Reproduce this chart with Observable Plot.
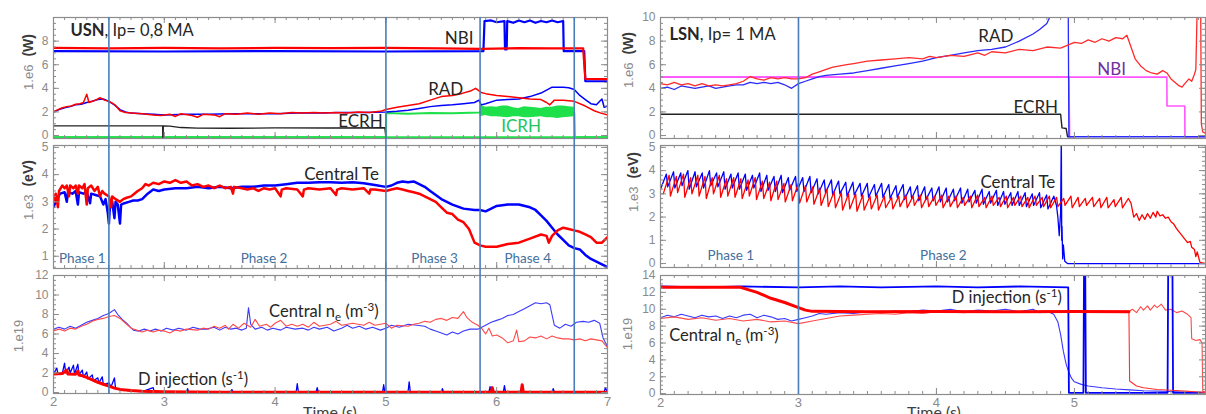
<!DOCTYPE html>
<html><head><meta charset="utf-8">
<script src="https://cdn.jsdelivr.net/npm/d3@7"></script>
<script src="https://cdn.jsdelivr.net/npm/@observablehq/plot@0.6"></script>
<style>
body{margin:0;background:#fff;overflow:hidden}
#root{position:relative;width:1206px;height:414px;overflow:hidden;font-family:"Liberation Sans",Arial,sans-serif;background:#fff}
.cell{position:absolute}
.ytitle{position:absolute;transform:translate(-50%,-50%) rotate(-90deg);white-space:nowrap;line-height:1}
.ytitle .u{color:#8a8a8a;font-size:13px}
.ytitle .b{color:#3a3a3a;font-size:14px;font-weight:bold;margin-left:8px}
.xtitle{position:absolute;font-family:Lato,sans-serif;font-size:16px;color:#404040;transform:translateX(-50%);white-space:nowrap}
</style></head><body><div id="root"></div>
<script>
// ---------------- DATA (time in s) ----------------
// LEFT panel (USN, Ip = 0.8 MA) — top: powers (1e6 W)
const nbiRedL  = [2.0,7.42, 2.5,7.38, 3.0,7.43, 3.5,7.38, 4.0,7.42, 4.5,7.4, 5.0,7.42, 5.5,7.38, 5.85,7.35, 6.2,7.4, 6.5,7.38, 6.78,7.38, 6.8,4.8, 7.0,4.78];
const nbiBlueL = [2.0,7.15, 3.0,7.12, 4.0,7.15, 5.0,7.12, 5.88,7.15, 5.89,9.7, 5.95,9.75, 6.0,9.6, 6.07,9.7, 6.075,7.3, 6.09,7.3, 6.095,9.7, 6.15,9.55, 6.2,9.75, 6.25,9.6, 6.3,9.75, 6.35,9.55, 6.4,9.7, 6.45,9.6, 6.5,9.75, 6.55,9.6, 6.6,9.7, 6.605,7.15, 6.79,7.15, 6.8,4.6, 7.0,4.6];
const radRedL  = [2.0,2.0, 2.04,2.2, 2.08,2.35, 2.12,2.45, 2.16,2.5, 2.2,2.65, 2.24,2.7, 2.27,2.8, 2.3,3.5, 2.32,2.8, 2.35,2.9, 2.38,3.0, 2.42,3.2, 2.46,3.0, 2.5,2.9, 2.53,2.75, 2.56,2.55, 2.6,2.1, 2.65,1.95, 2.7,1.9, 2.8,1.85, 2.9,1.75, 2.97,1.7, 3.05,1.8, 3.1,1.62, 3.15,1.85, 3.25,1.7, 3.3,1.55, 3.35,1.8, 3.45,1.75, 3.5,1.6, 3.55,1.85, 3.65,1.8, 3.75,1.9, 3.85,1.8, 3.95,1.9, 4.05,1.85, 4.15,1.95, 4.25,1.9, 4.35,1.95, 4.45,1.9, 4.55,1.95, 4.65,1.9, 4.75,2.0, 4.85,1.95, 4.95,2.05, 5.0,2.2, 5.1,2.4, 5.2,2.55, 5.3,2.7, 5.4,3.0, 5.5,3.3, 5.6,3.4, 5.68,3.55, 5.77,3.8, 5.81,4.0, 5.86,3.65, 5.9,3.55, 6.0,3.4, 6.1,3.3, 6.2,3.2, 6.3,3.1, 6.4,3.05, 6.45,2.8, 6.48,2.6, 6.52,3.0, 6.6,3.0, 6.7,2.9, 6.8,2.5, 6.88,2.1, 6.94,1.9, 7.0,1.75];
const radBlueL = [2.0,2.0, 2.05,2.2, 2.1,2.35, 2.15,2.45, 2.2,2.6, 2.25,2.65, 2.3,2.8, 2.35,2.9, 2.4,3.05, 2.45,3.1, 2.5,2.9, 2.55,2.6, 2.6,2.2, 2.65,2.0, 2.7,1.9, 2.8,1.85, 2.9,1.8, 3.0,1.75, 3.2,1.8, 3.4,1.8, 3.6,1.85, 3.8,1.85, 4.0,1.85, 4.2,1.9, 4.4,1.9, 4.6,1.95, 4.8,1.95, 5.0,2.0, 5.1,2.05, 5.2,2.15, 5.3,2.3, 5.4,2.45, 5.5,2.55, 5.6,2.6, 5.7,2.7, 5.8,2.8, 5.84,3.0, 5.86,2.6, 5.9,2.7, 6.0,3.0, 6.1,3.05, 6.2,3.1, 6.3,3.3, 6.4,3.6, 6.5,4.1, 6.6,4.1, 6.65,4.05, 6.7,3.9, 6.75,3.4, 6.8,3.05, 6.85,2.7, 6.9,2.6, 6.93,2.9, 6.95,3.1, 6.97,2.4, 7.0,2.5];
const ecrhL    = [2.0,0.82, 2.985,0.82, 2.986,-0.15, 2.99,-0.15, 2.991,0.82, 3.05,0.8, 3.15,0.68, 3.3,0.63, 3.6,0.62, 4.0,0.65, 4.5,0.64, 4.99,0.66, 5.0,-0.15];
const icrhOff  = [2.0,-0.15, 7.0,-0.15];
const icrhOn   = [2.0,-0.15, 5.0,-0.15, 5.003,1.9, 5.2,1.85, 5.4,1.9, 5.6,1.88, 5.84,1.95, 5.85,2.0, 6.7,1.9, 6.705,-0.15, 7.0,-0.15];
const icrhBandT  = [5.85, 5.9, 5.95, 6.0, 6.05, 6.1, 6.15, 6.2, 6.25, 6.3, 6.35, 6.4, 6.45, 6.5, 6.55, 6.6, 6.65, 6.7];
const icrhBandHi = [2.6, 2.4, 2.45, 2.4, 2.5, 2.5, 2.35, 2.3, 2.45, 2.4, 2.35, 2.3, 2.4, 2.4, 2.5, 2.5, 2.45, 2.4];
const icrhBandLo = [1.6, 1.7, 1.6, 1.6, 1.55, 1.5, 1.6, 1.6, 1.5, 1.5, 1.55, 1.6, 1.5, 1.5, 1.45, 1.5, 1.55, 1.6];
// LEFT middle: central Te (1e3 eV)
const teRedL  = [2.0,3.0, 2.02,3.3, 2.04,2.8, 2.05,3.4, 2.08,3.6, 2.1,3.5, 2.12,3.6, 2.14,3.2, 2.15,3.6, 2.18,3.5, 2.2,3.6, 2.22,3.3, 2.23,3.6, 2.26,3.5, 2.28,3.65, 2.3,2.9, 2.31,3.5, 2.34,3.6, 2.37,3.4, 2.4,3.55, 2.42,3.2, 2.44,3.4, 2.46,3.3, 2.5,3.2, 2.52,2.8, 2.53,3.2, 2.56,3.1, 2.6,3.0, 2.63,3.1, 2.66,3.15, 2.7,3.2, 2.73,3.3, 2.76,3.4, 2.8,3.5, 2.83,3.65, 2.86,3.6, 2.9,3.7, 2.95,3.65, 3.0,3.75, 3.05,3.7, 3.1,3.8, 3.15,3.7, 3.2,3.75, 3.25,3.6, 3.3,3.65, 3.35,3.55, 3.4,3.6, 3.45,3.5, 3.5,3.6, 3.55,3.5, 3.6,3.55, 3.62,3.3, 3.63,3.55, 3.7,3.5, 3.75,3.45, 3.8,3.5, 3.85,3.4, 3.9,3.5, 3.95,3.45, 4.0,3.5, 4.05,3.2, 4.06,3.45, 4.1,3.5, 4.2,3.45, 4.25,3.2, 4.26,3.45, 4.3,3.5, 4.4,3.45, 4.5,3.5, 4.55,3.25, 4.56,3.45, 4.6,3.5, 4.7,3.45, 4.8,3.5, 4.85,3.3, 4.86,3.45, 4.9,3.45, 5.0,3.4, 5.05,3.45, 5.1,3.5, 5.15,3.45, 5.2,3.4, 5.25,3.35, 5.3,3.3, 5.35,3.2, 5.4,3.1, 5.45,3.0, 5.5,2.8, 5.55,2.6, 5.6,2.55, 5.65,2.35, 5.7,2.25, 5.75,2.0, 5.8,1.5, 5.85,1.4, 5.9,1.35, 6.0,1.35, 6.1,1.45, 6.2,1.5, 6.3,1.65, 6.4,1.8, 6.45,1.75, 6.47,1.5, 6.5,1.75, 6.55,1.95, 6.6,2.05, 6.65,2.0, 6.7,1.95, 6.75,1.9, 6.8,1.8, 6.85,1.7, 6.9,1.5, 6.95,1.5, 7.0,1.7];
const teBlueL = [2.0,2.8, 2.03,3.1, 2.06,3.3, 2.1,3.35, 2.12,3.0, 2.13,3.35, 2.17,3.3, 2.2,3.4, 2.22,2.9, 2.23,3.35, 2.27,3.3, 2.3,3.35, 2.33,2.95, 2.34,3.3, 2.38,3.25, 2.42,3.2, 2.45,2.9, 2.47,3.1, 2.49,2.6, 2.5,2.2, 2.51,2.9, 2.53,3.0, 2.55,2.4, 2.56,3.0, 2.58,2.9, 2.6,2.2, 2.61,2.9, 2.64,2.95, 2.68,3.0, 2.72,3.05, 2.76,3.05, 2.8,3.1, 2.85,3.3, 2.9,3.45, 2.95,3.4, 3.0,3.45, 3.1,3.5, 3.2,3.5, 3.3,3.55, 3.4,3.5, 3.5,3.55, 3.6,3.5, 3.7,3.55, 3.8,3.55, 3.9,3.6, 4.0,3.6, 4.1,3.65, 4.2,3.7, 4.3,3.7, 4.4,3.72, 4.5,3.72, 4.6,3.7, 4.7,3.72, 4.8,3.68, 4.9,3.62, 5.0,3.55, 5.05,3.6, 5.1,3.7, 5.15,3.75, 5.2,3.72, 5.25,3.75, 5.3,3.65, 5.35,3.55, 5.4,3.4, 5.45,3.25, 5.5,3.1, 5.55,3.0, 5.6,2.9, 5.7,2.75, 5.8,2.7, 5.85,2.7, 5.9,2.65, 5.95,2.75, 6.0,2.85, 6.1,2.9, 6.2,2.9, 6.3,2.8, 6.35,2.7, 6.4,2.5, 6.45,2.3, 6.5,2.05, 6.55,1.8, 6.6,1.6, 6.65,1.4, 6.7,1.3, 6.75,1.25, 6.8,1.05, 6.85,0.9, 6.9,0.8, 6.95,0.7, 7.0,0.6];
// LEFT bottom: central ne and D injection (1e19)
const neBlueL = [2.0,6.5, 2.05,6.7, 2.1,6.5, 2.15,6.8, 2.2,6.6, 2.25,6.9, 2.3,7.2, 2.35,7.4, 2.4,7.6, 2.45,7.9, 2.5,8.1, 2.55,8.5, 2.58,8.0, 2.62,7.5, 2.67,7.0, 2.72,6.4, 2.77,6.3, 2.82,6.5, 2.87,6.3, 2.92,6.5, 2.97,6.3, 3.02,6.6, 3.08,6.4, 3.13,6.6, 3.2,6.4, 3.26,6.7, 3.32,6.5, 3.38,6.5, 3.45,6.7, 3.5,6.4, 3.55,6.7, 3.6,6.5, 3.65,6.6, 3.7,6.4, 3.74,6.6, 3.76,8.7, 3.78,7.0, 3.82,6.5, 3.88,6.7, 3.93,6.4, 3.98,6.6, 4.05,6.4, 4.1,6.7, 4.18,6.5, 4.25,6.6, 4.3,6.4, 4.35,6.7, 4.4,6.5, 4.47,6.7, 4.53,6.3, 4.6,6.6, 4.65,6.9, 4.7,6.6, 4.76,6.8, 4.82,6.5, 4.88,6.7, 4.95,6.4, 5.0,6.6, 5.05,6.9, 5.12,6.7, 5.2,7.0, 5.28,6.9, 5.35,6.8, 5.4,6.5, 5.45,6.3, 5.5,6.1, 5.55,5.9, 5.6,6.2, 5.65,6.0, 5.7,6.3, 5.76,6.5, 5.83,6.5, 5.9,6.9, 5.95,7.2, 6.0,7.4, 6.05,7.6, 6.1,7.9, 6.15,8.0, 6.2,8.3, 6.25,8.6, 6.3,8.9, 6.35,9.2, 6.4,9.1, 6.45,9.2, 6.48,9.0, 6.52,6.9, 6.57,6.6, 6.62,7.0, 6.67,6.8, 6.72,7.2, 6.78,7.3, 6.83,7.2, 6.88,7.4, 6.93,7.1, 6.96,5.6, 7.0,4.7];
const neRedL  = [2.0,6.3, 2.05,6.5, 2.1,6.3, 2.15,6.6, 2.2,6.5, 2.25,6.8, 2.3,7.0, 2.35,7.3, 2.4,7.5, 2.45,7.6, 2.5,7.8, 2.55,7.9, 2.6,7.6, 2.65,7.1, 2.7,6.6, 2.75,6.4, 2.8,6.2, 2.85,6.4, 2.9,6.2, 2.95,6.4, 3.0,6.3, 3.05,6.1, 3.1,6.4, 3.15,6.3, 3.2,6.5, 3.3,6.4, 3.35,6.6, 3.4,6.5, 3.45,6.8, 3.5,6.6, 3.55,6.9, 3.58,6.5, 3.62,7.0, 3.67,6.6, 3.72,7.1, 3.78,6.7, 3.82,7.5, 3.86,6.8, 3.92,7.0, 3.96,6.7, 4.0,7.1, 4.05,7.4, 4.1,6.8, 4.15,7.0, 4.2,6.8, 4.25,7.0, 4.3,6.7, 4.35,7.2, 4.4,6.8, 4.5,7.0, 4.55,7.3, 4.6,6.9, 4.7,7.1, 4.8,6.9, 4.85,7.2, 4.9,6.9, 5.0,7.1, 5.05,6.6, 5.1,6.9, 5.2,6.8, 5.25,7.0, 5.3,7.1, 5.35,7.3, 5.4,7.2, 5.45,7.5, 5.5,7.6, 5.55,7.4, 5.6,7.7, 5.65,7.6, 5.7,8.3, 5.73,7.7, 5.78,7.2, 5.83,6.9, 5.87,6.5, 5.9,6.0, 5.93,6.6, 5.96,5.8, 6.0,5.9, 6.05,5.6, 6.1,5.1, 6.15,5.3, 6.18,6.4, 6.2,5.2, 6.25,5.3, 6.3,5.7, 6.35,5.6, 6.4,5.8, 6.45,5.5, 6.5,5.8, 6.55,5.6, 6.6,5.5, 6.65,5.5, 6.7,5.4, 6.75,5.5, 6.8,5.3, 6.85,5.5, 6.9,5.4, 6.95,5.3, 7.0,4.6];
const dInjRedL  = [2.0,1.9, 2.08,1.95, 2.12,2.3, 2.13,1.9, 2.2,1.88, 2.22,2.2, 2.23,1.8, 2.25,1.75, 2.3,1.55, 2.35,1.3, 2.4,1.05, 2.45,0.85, 2.5,0.65, 2.55,0.45, 2.6,0.32, 2.7,0.2, 2.8,0.12, 3.0,0.07, 3.5,0.04, 4.0,0.03, 5.0,0.03, 5.95,0.03, 5.96,0.5, 5.97,0.03, 6.22,0.03, 6.23,0.8, 6.24,0.03, 7.0,0.03];
const dInjBlueL = [2.0,1.9, 2.03,2.5, 2.04,1.9, 2.08,2.0, 2.1,3.0, 2.11,2.0, 2.14,2.6, 2.15,2.0, 2.18,2.8, 2.19,1.9, 2.22,2.9, 2.23,1.8, 2.26,2.3, 2.27,1.6, 2.3,2.1, 2.31,1.4, 2.35,1.8, 2.36,1.2, 2.4,1.5, 2.41,1.0, 2.44,1.6, 2.45,0.8, 2.5,1.0, 2.52,0.6, 2.55,1.5, 2.56,0.4, 2.6,0.3, 2.65,0.25, 2.7,0.15, 2.8,0.1, 2.9,0.5, 2.91,0.05, 3.2,0.05, 3.21,0.4, 3.22,0.05, 3.6,0.05, 3.61,0.3, 3.62,0.05, 4.19,0.05, 4.2,0.9, 4.21,0.05, 4.37,0.05, 4.38,0.5, 4.39,0.05, 4.97,0.05, 4.98,0.8, 4.99,0.05, 5.2,0.05, 5.21,1.1, 5.22,0.05, 5.5,0.05, 5.51,0.4, 5.52,0.05, 5.93,0.05, 5.94,0.6, 5.95,0.05, 6.06,0.05, 6.07,0.7, 6.08,0.05, 6.5,0.05, 6.51,0.4, 6.52,0.05, 6.97,0.05, 6.98,0.5, 7.0,0.05];

// RIGHT panel (LSN, Ip = 1 MA) — top: powers (1e6 W)
const radRedR  = [2.0,4.4, 2.05,4.3, 2.1,4.5, 2.15,4.3, 2.2,4.4, 2.25,4.2, 2.3,4.4, 2.35,4.2, 2.4,4.3, 2.45,4.2, 2.5,4.3, 2.55,4.4, 2.6,4.6, 2.65,5.0, 2.7,4.8, 2.75,4.7, 2.8,4.9, 2.85,4.8, 2.9,4.9, 2.95,4.8, 3.0,4.8, 3.05,4.9, 3.1,5.2, 3.15,5.4, 3.2,5.6, 3.25,5.8, 3.3,5.9, 3.35,6.0, 3.4,6.1, 3.45,6.2, 3.5,6.3, 3.6,6.4, 3.7,6.5, 3.8,6.6, 3.9,6.5, 3.95,6.7, 4.0,6.6, 4.1,6.8, 4.2,6.7, 4.3,7.0, 4.35,6.8, 4.4,7.1, 4.5,7.0, 4.6,7.3, 4.7,7.2, 4.8,7.5, 4.9,7.4, 5.0,7.9, 5.05,7.8, 5.1,8.1, 5.15,7.9, 5.2,8.2, 5.25,8.0, 5.3,8.3, 5.35,8.2, 5.38,8.5, 5.41,7.5, 5.44,6.5, 5.48,5.9, 5.52,5.5, 5.56,5.3, 5.6,5.2, 5.64,5.5, 5.67,5.3, 5.7,4.8, 5.73,4.5, 5.76,4.2, 5.78,4.1, 5.8,4.4, 5.83,4.8, 5.85,4.6, 5.87,5.2, 5.88,5.6, 5.89,11, 5.915,11, 5.92,1.0, 5.93,0.3, 5.95,0.2];
const radBlueR = [2.0,4.0, 2.05,4.1, 2.1,3.9, 2.15,4.2, 2.2,4.1, 2.25,4.0, 2.3,4.1, 2.35,4.2, 2.4,4.0, 2.45,4.1, 2.5,4.2, 2.55,4.3, 2.6,4.3, 2.65,4.5, 2.7,4.4, 2.75,4.5, 2.8,4.4, 2.85,4.5, 2.9,4.3, 2.95,4.0, 3.0,4.4, 3.05,4.6, 3.1,4.8, 3.15,5.0, 3.2,5.1, 3.3,5.2, 3.4,5.3, 3.5,5.5, 3.6,5.7, 3.7,5.9, 3.8,6.1, 3.9,6.3, 4.0,6.6, 4.1,6.8, 4.2,7.0, 4.3,7.2, 4.4,7.3, 4.5,7.5, 4.6,8.0, 4.7,8.6, 4.75,9.0, 4.8,9.5, 4.84,10.5, 4.955,11, 4.96,-0.1, 5.95,-0.1];
const ecrhR    = [2.0,1.8, 4.9,1.8, 4.91,0.65, 4.94,0.6, 4.95,-0.1, 4.96,-0.1];
const nbiR1    = [2.0,4.95, 5.67,4.95, 5.671,2.5, 5.8,2.5, 5.801,-0.1, 5.95,-0.1];
const nbiR2    = [2.0,4.95, 4.96,4.95, 4.965,-0.1, 5.0,-0.1];
// RIGHT middle: central Te (1e3 eV) — sawtooth crashes, one tooth per entry
const sawPeriod = 0.052;
const teBlueRhi = [3.85,3.95,3.9,4.0,3.95,3.9,4.0,3.9,3.95,3.85, 3.9,3.85,3.8,3.9,3.8,3.75,3.8,3.7,3.75,3.7, 3.75,3.65,3.6,3.6,3.55,3.5,3.5,3.45,3.45,3.4, 3.45,3.4,3.35,3.4,3.3,3.35,3.3,3.25,3.3,3.25, 3.2,3.25,3.2,3.15,3.2,3.1,3.15,3.1,3.05,3.1, 3.05,3.0,3.05,2.95,2.9];
const teBlueRlo = [3.2,3.3,3.25,3.35,3.2,3.3,3.25,3.35,3.3,3.2, 3.25,3.2,3.15,3.25,3.1,3.15,3.1,3.05,3.15,3.1, 3.1,3.05,3.0,3.05,2.95,3.0,2.9,2.95,2.9,2.85, 2.9,2.85,2.8,2.85,2.75,2.8,2.7,2.75,2.7,2.65, 2.65,2.7,2.6,2.65,2.6,2.55,2.6,2.5,2.55,2.5, 2.5,2.45,2.5,2.4,2.35];
const teBlueRtail = [4.87,2.5, 4.88,2.0, 4.89,1.2, 4.9,2.2, 4.905,5.6, 4.908,1.0, 4.91,1.6, 4.915,0.2, 4.92,0.8, 4.93,0.1, 4.95,0.0, 5.95,0.0];
const teRedRhi = [3.8,3.75,3.85,3.7,3.8,3.75,3.7,3.8,3.65,3.7, 3.65,3.6,3.7,3.55,3.5,3.55,3.45,3.4,3.45,3.35, 3.3,3.25,3.2,3.1,3.05,3.0,3.0,2.95,2.9,2.95, 2.9,2.85,2.9,2.95,2.9,2.95,2.9,2.9,2.95,2.9, 2.9,2.85,2.9,2.95,2.85,2.9,2.85,2.9,2.85,2.9, 2.85,2.9,2.85,2.9,2.85,2.8,2.9,2.85,2.8,2.85, 2.8,2.85,2.75,2.85,2.8];
const teRedRlo = [3.0,2.9,3.05,2.85,3.0,2.9,2.8,3.0,2.85,2.9, 2.85,2.8,2.9,2.75,2.8,2.7,2.75,2.65,2.7,2.6, 2.65,2.55,2.5,2.45,2.4,2.3,2.35,2.25,2.3,2.35, 2.3,2.4,2.35,2.45,2.4,2.5,2.4,2.45,2.5,2.4, 2.45,2.4,2.5,2.4,2.45,2.4,2.5,2.45,2.4,2.5, 2.45,2.4,2.5,2.45,2.4,2.45,2.5,2.4,2.45,2.5, 2.45,2.4,2.4,2.45,2.4];
const teRedRtail = [5.41,2.6, 5.43,2.0, 5.45,2.15, 5.47,1.85, 5.49,2.1, 5.51,1.9, 5.53,2.15, 5.55,1.95, 5.57,2.2, 5.59,2.0, 5.6,2.25, 5.62,2.05, 5.64,2.1, 5.66,1.95, 5.68,2.0, 5.7,1.8, 5.72,1.7, 5.74,1.5, 5.76,1.35, 5.78,1.2, 5.8,1.05, 5.82,0.9, 5.84,0.95, 5.85,0.7, 5.87,0.6, 5.88,0.3, 5.89,0.5, 5.91,0.05, 5.95,0.0];
// RIGHT bottom: D injection and central ne (1e19)
const dInjBlueR = [2.0,12.7, 2.3,12.6, 2.6,12.7, 3.0,12.6, 3.3,12.7, 3.6,12.6, 4.0,12.7, 4.3,12.6, 4.6,12.7, 4.955,12.6, 4.96,0.1, 5.065,0.1, 5.07,16, 5.078,16, 5.083,0.1, 5.675,0.1, 5.68,16, 5.71,16, 5.715,0.1, 5.95,0.1];
const dInjRedR  = [2.0,12.6, 2.58,12.6, 2.7,12.0, 2.8,11.3, 2.9,10.8, 3.0,10.2, 3.05,9.9, 3.1,9.75, 3.5,9.7, 4.0,9.72, 4.5,9.7, 5.0,9.72, 5.395,9.7];
const dInjRedRtail = [5.395,9.7, 5.4,1.5, 5.45,0.9, 5.5,0.7, 5.6,0.5, 5.7,0.4, 5.8,0.3, 5.9,0.2, 5.95,0.15];
const neBlueR = [2.0,9.0, 2.05,9.3, 2.1,9.1, 2.15,9.4, 2.2,9.2, 2.25,9.0, 2.3,9.3, 2.35,9.1, 2.4,9.2, 2.45,8.9, 2.5,9.2, 2.55,9.0, 2.6,9.3, 2.65,9.4, 2.7,9.0, 2.75,9.3, 2.8,9.1, 2.85,8.8, 2.9,8.9, 2.95,8.6, 3.0,8.8, 3.05,9.0, 3.1,9.2, 3.15,9.5, 3.2,9.4, 3.3,9.6, 3.4,9.5, 3.5,9.7, 3.6,9.6, 3.7,9.8, 3.8,9.7, 3.9,9.9, 4.0,9.8, 4.1,10.0, 4.2,9.7, 4.3,9.9, 4.4,9.8, 4.5,10.0, 4.6,9.7, 4.7,10.0, 4.75,9.6, 4.8,9.8, 4.85,9.4, 4.88,8.5, 4.9,7.0, 4.92,5.0, 4.94,3.5, 4.96,2.5, 4.98,1.8, 5.0,1.4, 5.05,1.1, 5.1,0.9, 5.2,0.7, 5.3,0.55, 5.4,0.45, 5.5,0.35, 5.6,0.3, 5.7,0.25, 5.8,0.2, 5.95,0.15];
const neRedR  = [2.0,8.9, 2.1,9.1, 2.2,8.8, 2.3,9.0, 2.4,8.7, 2.5,8.9, 2.6,8.6, 2.7,8.8, 2.8,8.5, 2.9,8.6, 3.0,8.3, 3.1,8.6, 3.2,8.9, 3.3,9.2, 3.4,9.3, 3.5,9.4, 3.6,9.5, 3.7,9.4, 3.8,9.6, 3.9,9.5, 4.0,9.7, 4.2,9.6, 4.4,9.8, 4.6,9.7, 4.8,9.8, 5.0,9.7, 5.2,9.8, 5.4,9.8, 5.42,10.0, 5.45,9.6, 5.48,10.3, 5.5,9.9, 5.53,10.4, 5.55,9.9, 5.58,10.5, 5.6,10.2, 5.63,10.6, 5.66,9.9, 5.7,10.0, 5.74,9.6, 5.78,9.8, 5.82,9.4, 5.845,9.0, 5.85,6.5, 5.88,6.3, 5.91,6.4, 5.925,6.0, 5.93,0.3, 5.95,0.2];

// phases, ticks
const phasesL = [2.5, 5.0, 5.85, 6.7];
const phasesR = [3.0];
const xTicksL = [2, 3, 4, 5, 6, 7];
const xTicksR = [2, 3, 4, 5];

// ---------------- helpers ----------------
const pairs = a => { const o = []; for (let i = 0; i < a.length; i += 2) o.push({t: a[i], v: a[i+1]}); return o; };
const saw = (t0, lo, hi) => { const o = []; lo.forEach((l, i) => { o.push({t: t0 + i*sawPeriod, v: l}); o.push({t: t0 + (i+0.82)*sawPeriod, v: hi[i]}); }); return o; };
const RED = "#ff0000", BLUE = "#0000ff", GREEN = "#1ee04a", MAG = "#ff55ff", PURPLE = "#7030a0";
const FRAME = "#8c8c8c", TICK = "#8a8a8a", PHASE = "#4a7ebb", ANN = "#262626", PHTXT = "#44709d";
const FONT = "Lato, 'Open Sans', sans-serif";
const root = document.getElementById("root");

function ln(a, stroke, w = 1.5, extra = {}) { return Plot.line(pairs(a), {x: "t", y: "v", stroke, strokeWidth: w, clip: true, ...extra}); }
function lnd(d, stroke, w = 1.5, extra = {}) { return Plot.line(d, {x: "t", y: "v", stroke, strokeWidth: w, clip: true, ...extra}); }
function ann(list) {
  return list.map(a => Plot.text([a], {x: "x", y: "y", text: "s", fontSize: a.size || 16, fill: a.fill || ANN,
    fontFamily: FONT, textAnchor: a.anchor || "middle"}));
}

function richify(svg) {
  svg.querySelectorAll("text").forEach(el => {
    const s = el.textContent;
    if (!/[_^*]\{/.test(s)) return;
    const parts = s.split(/([_^*]\{[^}]*\})/).filter(p => p);
    el.textContent = "";
    let shift = 0;
    for (const p of parts) {
      const ts = document.createElementNS("http://www.w3.org/2000/svg", "tspan");
      let target = 0, txt = p;
      if (/^[_^*]\{/.test(p)) {
        txt = p.slice(2, -1);
        if (p[0] === "_") { target = 4; ts.setAttribute("font-size", "70%"); }
        if (p[0] === "^") { target = -6; ts.setAttribute("font-size", "70%"); }
        if (p[0] === "*") { ts.setAttribute("font-weight", "bold"); }
      }
      ts.setAttribute("dy", target - shift); shift = target;
      ts.textContent = txt;
      el.appendChild(ts);
    }
  });
}

function sub(o) {
  const fh = o.h - o.mt - o.mb, fw = o.w - o.ml - o.mr;
  const xr = d3.range(Math.round(o.xd[0]*10), Math.floor(o.xd[1]*10 + 1e-6) + 1).map(d => d/10);
  const xMaj = xr.filter(d => Math.abs(d - Math.round(d)) < 1e-6);
  const marks = [
    ...o.marks,
    Plot.frame({stroke: FRAME, strokeWidth: 1.2}),
    Plot.tickX(xr, {x: d => d, insetTop: fh - 3, stroke: FRAME}),
    Plot.tickX(xr, {x: d => d, insetBottom: fh - 3, stroke: FRAME}),
    Plot.tickX(xMaj, {x: d => d, insetTop: fh - 6, stroke: FRAME}),
    Plot.tickX(xMaj, {x: d => d, insetBottom: fh - 6, stroke: FRAME}),
    Plot.tickY(o.ym, {y: d => d, insetRight: fw - 3, stroke: FRAME}),
    Plot.tickY(o.ym, {y: d => d, insetLeft: fw - 3, stroke: FRAME}),
    Plot.tickY(o.yt, {y: d => d, insetRight: fw - 6, stroke: FRAME}),
    Plot.tickY(o.yt, {y: d => d, insetLeft: fw - 6, stroke: FRAME}),
    Plot.axisY(o.yt, {anchor: "left", tickSize: 0, tickPadding: 5, fontSize: 12, color: TICK, label: null, tickFormat: d => String(d)}),
    ...(o.ann ? ann(o.ann) : [])
  ];
  if (o.xt) marks.push(Plot.axisX(o.xt, {anchor: "bottom", tickSize: 0, tickPadding: 3, fontSize: 13, color: TICK, label: null, tickFormat: d => String(d)}));
  const svg = Plot.plot({
    width: o.w, height: o.h, marginTop: o.mt, marginBottom: o.mb, marginLeft: o.ml, marginRight: o.mr,
    x: o.xt ? {domain: o.xd} : {domain: o.xd, axis: null},
    y: {domain: o.yd},
    style: {fontFamily: "'Liberation Sans', Arial, sans-serif", fontSize: "13px", background: "transparent", overflow: "visible"},
    marks
  });
  richify(svg);
  const div = document.createElement("div");
  div.className = "cell";
  div.style.left = o.left + "px"; div.style.top = o.top + "px"; div.style.width = o.w + "px"; div.style.height = o.h + "px";
  div.appendChild(svg);
  root.appendChild(div);
}

function overlay(left, w, ml, mr, xd, phases) {
  const svg = Plot.plot({
    width: w, height: 414, marginTop: 17, marginBottom: 20, marginLeft: ml, marginRight: mr,
    x: {domain: xd, axis: null},
    style: {background: "transparent", overflow: "visible"},
    marks: [Plot.ruleX(phases, {x: d => d, stroke: PHASE, strokeWidth: 1.6})]
  });
  const div = document.createElement("div");
  div.className = "cell";
  div.style.left = left + "px"; div.style.top = "0px"; div.style.width = w + "px"; div.style.height = "414px";
  div.appendChild(svg);
  root.appendChild(div);
}

function ytitle(cx, cy, unit, bold) {
  const d = document.createElement("div");
  d.className = "ytitle";
  d.style.left = cx + "px"; d.style.top = cy + "px";
  d.innerHTML = `<span class="u">${unit}</span>` + (bold ? `<span class="b">${bold}</span>` : "");
  root.appendChild(d);
}
function xtitle(cx, top) {
  const d = document.createElement("div");
  d.className = "xtitle"; d.style.left = cx + "px"; d.style.top = top + "px";
  d.textContent = "Time  (s)";
  root.appendChild(d);
}

// ---------------- LEFT PANEL ----------------
const XL = [2, 7];
const L = {left: 0, w: 610, ml: 53, mr: 3, xd: XL};
sub({...L, top: 0, h: 140, mt: 17, mb: 2, yd: [-0.25, 10], yt: [0, 2, 4, 6, 8], ym: d3.range(0, 10.01, 0.5),
  marks: [
    ln(icrhOff, GREEN, 2),
    Plot.areaY(icrhBandT.map((t, i) => ({t, lo: icrhBandLo[i], hi: icrhBandHi[i]})), {x: "t", y1: "lo", y2: "hi", fill: GREEN, clip: true}),
    ln(icrhOn, GREEN, 2),
    ln(ecrhL, "#222", 1.3),
    ln(radBlueL, BLUE, 1.5),
    ln(radRedL, RED, 1.5),
    ln(nbiBlueL, BLUE, 2.2),
    ln(nbiRedL, RED, 2.2)
  ],
  ann: [
    {x: 2.154, y: 8.84, s: "*{USN}, Ip= 0,8 MA", anchor: "start", size: 16.5},
    {x: 5.66, y: 8.2, s: "NBI", size: 17},
    {x: 5.54, y: 3.9, s: "RAD", size: 17},
    {x: 4.77, y: 1.15, s: "ECRH", size: 17},
    {x: 6.22, y: 0.8, s: "ICRH", size: 17, fill: "#22c55e"}
  ]});
sub({...L, top: 140, h: 130, mt: 5, mb: 2, yd: [0.55, 5.07], yt: [1, 2, 3, 4, 5], ym: d3.range(0.6, 5.01, 0.2),
  marks: [lnd(pairs(teBlueL), BLUE, 2.5), lnd(pairs(teRedL), RED, 2.5)],
  ann: [
    {x: 4.6, y: 4.0, s: "Central Te", size: 17},
    {x: 2.26, y: 0.92, s: "Phase 1", size: 13.5, fill: PHTXT},
    {x: 3.9, y: 0.92, s: "Phase 2", size: 13.5, fill: PHTXT},
    {x: 5.44, y: 0.92, s: "Phase 3", size: 13.5, fill: PHTXT},
    {x: 6.28, y: 0.92, s: "Phase 4", size: 13.5, fill: PHTXT}
  ]});
sub({...L, top: 270, h: 144, mt: 5, mb: 21, yd: [-0.1, 12], yt: [0, 2, 4, 6, 8, 10, 12], ym: d3.range(0, 12.01, 0.5), xt: xTicksL,
  marks: [
    ln(neBlueL, "#3a3aff", 1.1), ln(neRedL, "#ff4a4a", 1.1),
    ln(dInjBlueL, BLUE, 1.3), ln(dInjRedL, RED, 3)
  ],
  ann: [
    {x: 4.44, y: 8.3, s: "Central n_{e} (m^{-3})", size: 16.5},
    {x: 3.26, y: 1.35, s: "D injection (s^{-1})", size: 16.5}
  ]});
overlay(0, 610, 53, 3, XL, phasesL);

// ---------------- RIGHT PANEL ----------------
const XR = [2, 5.95];
const R = {left: 600, w: 606, ml: 60, mr: 1, xd: XR};
sub({...R, top: 0, h: 140, mt: 17, mb: 2, yd: [-0.25, 10], yt: [0, 2, 4, 6, 8, 10], ym: d3.range(0, 10.01, 0.5),
  marks: [
    ln(nbiR2, MAG, 1.6), ln(nbiR1, MAG, 1.6),
    ln(ecrhR, "#222", 1.4),
    ln(radBlueR, "#2a2aff", 1.3),
    ln(radRedR, "#ff2a2a", 1.3)
  ],
  ann: [
    {x: 2.065, y: 8.5, s: "*{LSN}, Ip= 1 MA", anchor: "start", size: 16.5},
    {x: 4.43, y: 8.4, s: "RAD", size: 17},
    {x: 5.27, y: 5.6, s: "NBI", size: 17, fill: PURPLE},
    {x: 4.72, y: 2.4, s: "ECRH", size: 17}
  ]});
sub({...R, top: 140, h: 130, mt: 5, mb: 3, yd: [-0.17, 5.08], yt: [0, 1, 2, 3, 4, 5], ym: d3.range(0, 5.01, 0.2),
  marks: [
    lnd([...saw(2.0, teBlueRlo, teBlueRhi), ...pairs(teBlueRtail)], BLUE, 1.3),
    lnd([...saw(2.02, teRedRlo, teRedRhi), ...pairs(teRedRtail)], RED, 1.3)
  ],
  ann: [
    {x: 4.59, y: 3.5, s: "Central Te", size: 17},
    {x: 2.51, y: 0.33, s: "Phase 1", size: 13.5, fill: PHTXT},
    {x: 4.05, y: 0.33, s: "Phase 2", size: 13.5, fill: PHTXT}
  ]});
sub({...R, top: 270, h: 144, mt: 5, mb: 20, yd: [-0.1, 14], yt: [0, 2, 4, 6, 8, 10, 12, 14], ym: d3.range(0, 14.01, 0.5), xt: xTicksR,
  marks: [
    ln(neBlueR, "#3a3aff", 1.1), ln(neRedR, "#ff4a4a", 1.1),
    ln(dInjBlueR, BLUE, 1.8),
    ln(dInjRedRtail, "#ff3030", 1.1),
    ln(dInjRedR, RED, 3)
  ],
  ann: [
    {x: 4.51, y: 11.4, s: "D injection (s^{-1})", size: 16.5},
    {x: 2.46, y: 6.9, s: "Central n_{e} (m^{-3})", size: 16.5}
  ]});
overlay(600, 606, 60, 1, XR, phasesR);

// ---------------- axis titles ----------------
ytitle(28, 62, "1.e6", "(W)");
ytitle(28, 190, "1.e3", "(eV)");
ytitle(18, 336, "1.e19", null);
ytitle(628, 60, "1.e6", "(W)");
ytitle(633, 182, "1.e3", "(eV)");
ytitle(627, 334, "1.e19", null);
xtitle(330, 402);
xtitle(934, 402);
</script></body></html>
